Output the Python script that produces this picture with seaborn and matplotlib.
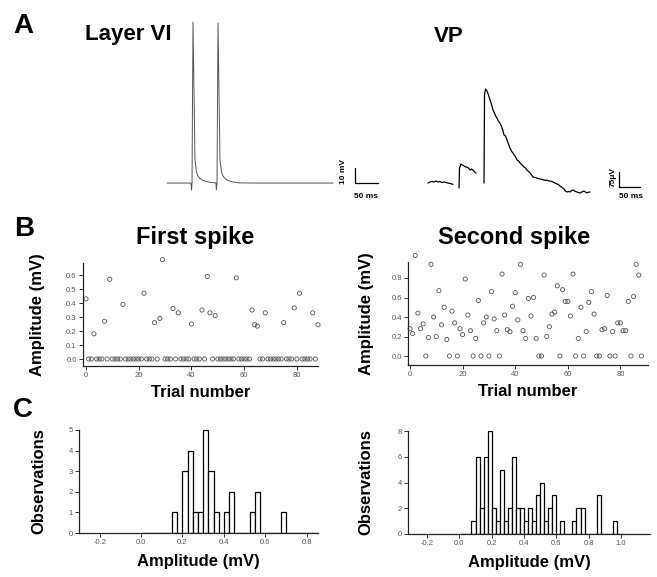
import numpy as np
import pandas as pd
import matplotlib
matplotlib.use("Agg")
import matplotlib.pyplot as plt
import seaborn as sns

# ---- panel A: example traces ----
# Layer VI cell, time (ms) and membrane potential (mV)
l6_t = [0, 52, 53.3, 54.4, 56.5, 60.9, 64.1, 67.4, 71.7, 78.3, 87, 97.8, 106.5,
        107.2, 108.7, 110.9, 115.2, 118.5, 121.7, 126.1, 132.6, 143.5, 158.7, 180, 361]
l6_v = [-65, -65, -69.7, -65, 42.3, -49.7, -57.7, -60.3, -62, -63.3, -64.1, -64.7, -64.9,
        -69.7, -65, 41.7, -49.7, -57.7, -60.3, -62, -63.3, -64.3, -64.9, -65, -65]

# VP response, time (ms) and amplitude (uV), three pieces between blanked artefacts
vp_t1 = [0, 4.8, 9.5, 14.3, 19, 23.8, 28.6, 33.3, 38.1, 42.8, 47.6, 52.4, 57.1, 59.5]
vp_v1 = [0, 5, 7.5, 5, 10, 5, 7.5, 2.5, 5, 2.5, 0, -2.5, -5, -7.5]
vp_t2 = [73.8, 75, 78.5, 82.1, 85.7, 89.2, 92.8, 96.4, 100, 103.5, 107.1, 110.7, 114.2]
vp_v2 = [-25, 75, 95, 90, 85, 80, 80, 75, 65, 70, 65, 55, 50]
vp_t3 = [133.3, 134.5, 136.9, 140.4, 144, 147.6, 151, 154.7, 158, 161, 164, 167.5, 171,
         174.5, 178, 181, 184.5, 188, 191.5, 195, 198.5, 202, 207, 212, 215.5, 219, 224,
         228.5, 232, 235.6, 239, 243, 246.5, 250, 254.5, 259, 263, 266.6, 271, 276, 280,
         283, 287, 290, 294, 297.5, 302, 307, 310.5, 314, 319, 323.7, 327, 331, 334.5,
         338, 341.5, 345, 350, 354.6, 358, 362, 366, 371, 374.5, 378, 382, 385.6]
vp_v3 = [0, 440, 470, 460, 440, 415, 395, 365, 350, 335, 325, 310, 300, 285, 265, 240,
         235, 215, 195, 175, 160, 150, 135, 115, 110, 100, 90, 80, 75, 65, 58, 50, 40, 30,
         28, 25, 22, 20, 18, 15, 12, 15, 10, 10, 8, 5, 0, -5, -8, -15, -22, -30, -40, -45,
         -42, -45, -38, -35, -42, -45, -48, -50, -45, -40, -45, -50, -46, -45]

# ---- panel B: amplitude per trial ----
trials = list(range(89))
first_amp = [
    0.43, 0, 0, 0.18, 0, 0, 0, 0.27, 0, 0.57,
    0, 0, 0, 0, 0.39, 0, 0, 0, 0, 0,
    0, 0, 0.47, 0, 0, 0, 0.26, 0, 0.29, 0.71,
    0, 0, 0, 0.36, 0, 0.33, 0, 0, 0, 0,
    0.25, 0, 0, 0, 0.35, 0, 0.59, 0.33, 0, 0.31,
    0, 0, 0, 0, 0, 0, 0, 0.58, 0, 0,
    0, 0, 0, 0.35, 0.245, 0.235, 0, 0, 0.33, 0,
    0, 0, 0, 0, 0, 0.26, 0, 0, 0, 0.365,
    0, 0.47, 0, 0, 0, 0, 0.33, 0, 0.245,
]
second_amp = [
    0.28, 0.23, 1.03, 0.44, 0.28, 0.33, 0, 0.19, 0.94, 0.40,
    0.20, 0.67, 0.32, 0.50, 0.17, 0, 0.46, 0.34, 0, 0.28,
    0.22, 0.79, 0.42, 0.26, 0, 0.18, 0.57, 0, 0.34, 0.40,
    0, 0.66, 0.38, 0.26, 0, 0.84, 0.42, 0.27, 0.25, 0.51,
    0.65, 0.37, 0.94, 0.26, 0.18, 0.59, 0.41, 0.60, 0.18, 0,
    0, 0.83, 0.20, 0.30, 0.43, 0.45, 0.72, 0, 0.68, 0.56,
    0.56, 0.41, 0.84, 0, 0.18, 0.50, 0, 0.25, 0.55, 0.66,
    0.43, 0, 0, 0.27, 0.28, 0.62, 0, 0.25, 0, 0.34,
    0.34, 0.26, 0.26, 0.56, 0, 0.61, 0.94, 0.83, 0,
]

# ---- panel C: amplitude histograms (bin left edge, count) ----
bin_w = 0.025
first_bins = [0.15, 0.2, 0.225, 0.25, 0.275, 0.3, 0.325, 0.35, 0.4, 0.425, 0.525, 0.55, 0.675]
first_counts = [1, 3, 4, 1, 1, 5, 3, 1, 1, 2, 1, 2, 1]
second_bins = [0.075, 0.1, 0.125, 0.15, 0.175, 0.2, 0.225, 0.25, 0.275, 0.3, 0.325, 0.35,
               0.375, 0.4, 0.425, 0.45, 0.475, 0.5, 0.525, 0.55, 0.575, 0.625, 0.7, 0.725,
               0.75, 0.85, 0.95]
second_counts = [1, 6, 2, 6, 8, 2, 1, 5, 1, 2, 6, 2, 2, 1, 2, 1, 3, 4, 1, 2, 3, 1, 1, 2, 2, 3, 1]

sns.set_style("ticks")
plt.rcParams['font.family'] = ['Liberation Sans', 'DejaVu Sans']

W, H = 657, 577
fig = plt.figure(figsize=(W / 100, H / 100), dpi=100)


def px_axes(x0, y0, x1, y1):
    return fig.add_axes([x0 / W, 1 - y1 / H, (x1 - x0) / W, (y1 - y0) / H])


def ftext(x, y, s, **kw):
    fig.text(x / W, 1 - y / H, s, **kw)


bold = dict(fontweight="bold", color="black")

# ---- A traces ----
ax = px_axes(160, 15, 400, 200)
sns.lineplot(x=l6_t, y=l6_v, ax=ax, color="#555555", lw=0.7, sort=False, estimator=None)
ax.plot([409, 409, 459], [-55, -65, -65], color="black", lw=0.9)
ax.text(384, -57, "10 mV", rotation=90, ha="center", va="center", fontsize=6, **bold)
ax.text(433, -74, "50 ms", ha="center", va="center", fontsize=6, **bold)
ax.set_xlim(-15.2, 506.5)
ax.set_ylim(-76.3, 47)
ax.axis("off")

ax = px_axes(420, 15, 660, 215)
for t, v in [(vp_t1, vp_v1), (vp_t2, vp_v2), (vp_t3, vp_v3)]:
    sns.lineplot(x=t, y=v, ax=ax, color="black", lw=0.9, sort=False, estimator=None)
ax.plot([455, 455, 505], [55, -20, -20], color="black", lw=0.9)
ax.text(440, 28, "75\u03bcV", rotation=90, ha="center", va="center", fontsize=6, **bold)
ax.text(482, -70, "50 ms", ha="center", va="center", fontsize=6, **bold)
ax.set_xlim(-19, 552)
ax.set_ylim(-160, 840)
ax.axis("off")

ftext(13, 33, "A", fontsize=20, va="baseline", **bold)
ftext(85, 40, "Layer VI", fontsize=16, va="baseline", **bold)
ftext(434, 41.5, "VP", fontsize=16, va="baseline", **bold)


def style_axes(ax):
    sns.despine(ax=ax)
    ax.tick_params(labelsize=5.5, labelcolor="#555555", length=3, width=0.7, pad=1.5,
                   color="#333333")
    for s in ["left", "bottom"]:
        ax.spines[s].set_linewidth(0.9)
        ax.spines[s].set_color("#222222")


# ---- B scatter ----
for box, amp, xlim, ylim, yticks, title, tx, ylab_x in [
    ((83, 263, 318, 366), first_amp, (-1.14, 88), (-0.05, 0.686),
     np.arange(0, 0.61, 0.1), "First spike", 195, -0.16),
    ((408, 262, 648, 365), second_amp, (-0.76, 90.5), (-0.092, 0.964),
     np.arange(0, 0.81, 0.2), "Second spike", 514, -0.14),
]:
    ax = px_axes(*box)
    sns.scatterplot(x=trials, y=amp, ax=ax, marker="o", s=9, facecolor="none",
                    edgecolor="#555555", linewidth=0.6, clip_on=False)
    ax.set_xlim(*xlim)
    ax.set_ylim(*ylim)
    ax.set_xticks([0, 20, 40, 60, 80])
    ax.set_yticks(yticks)
    ax.set_yticklabels([f"{v:.1f}" for v in yticks])
    style_axes(ax)
    ax.set_xlabel("Trial number", fontsize=12, **bold)
    ax.set_ylabel("Amplitude (mV)", fontsize=12, **bold)
    ax.xaxis.set_label_coords(0.5, -0.185)
    ax.yaxis.set_label_coords(ylab_x, 0.5)
    ftext(tx, 244, title, fontsize=17, ha="center", va="baseline", **bold)

ftext(14, 236, "B", fontsize=20, va="baseline", **bold)

# ---- C histograms ----
for box, left, counts, xlim, ymax, yticks, xticks, ylab_x in [
    ((79, 430, 318, 533), first_bins, first_counts, (-0.3, 0.855), 5,
     range(0, 6), np.arange(-0.2, 0.81, 0.2), -0.138),
    ((408, 431, 650, 534), second_bins, second_counts, (-0.318, 1.18), 8,
     range(0, 9, 2), np.arange(-0.2, 1.01, 0.2), -0.145),
]:
    ax = px_axes(*box)
    hist_df = pd.DataFrame({"amp": [b + bin_w / 2 for b in left], "n": counts})
    sns.histplot(data=hist_df, x="amp", weights="n", binwidth=bin_w, binrange=(0, 1),
                 ax=ax, color="white", edgecolor="black", linewidth=0.9, alpha=1)
    ax.set_xlim(*xlim)
    ax.set_ylim(0, ymax)
    ax.set_xticks(xticks)
    ax.set_xticklabels([f"{v:.1f}" if abs(v) > 1e-9 else "0.0" for v in xticks])
    ax.set_yticks(list(yticks))
    style_axes(ax)
    ax.set_xlabel("Amplitude (mV)", fontsize=12, **bold)
    ax.set_ylabel("Observations", fontsize=12, **bold)
    ax.xaxis.set_label_coords(0.5, -0.205)
    ax.yaxis.set_label_coords(ylab_x, 0.5)

ftext(13, 417, "C", fontsize=20, va="baseline", **bold)

fig.savefig("out.png", dpi=100)
